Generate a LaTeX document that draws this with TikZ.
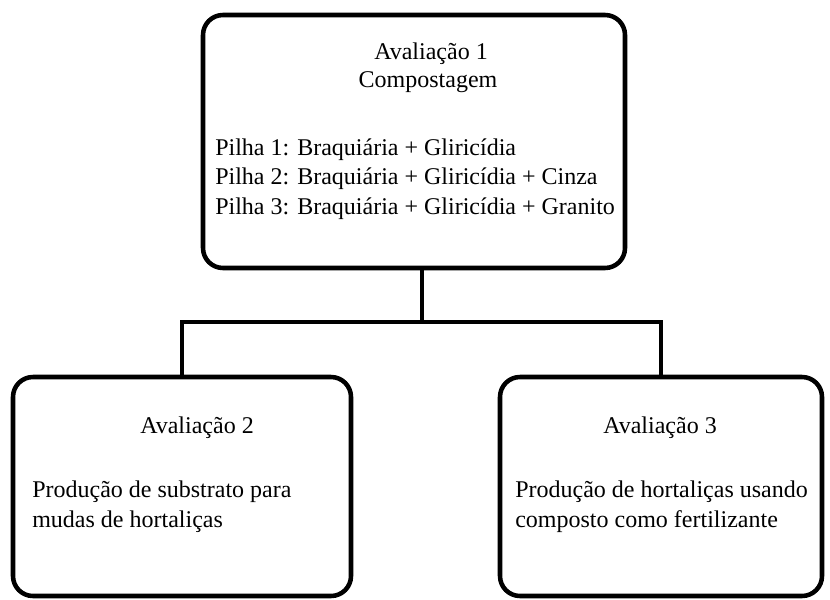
\documentclass[tikz,border=0pt]{standalone}
\usepackage{fontspec}
\setmainfont{Liberation Serif}
\begin{document}
\begin{tikzpicture}[x=0.75pt,y=-0.75pt,
  box/.style={draw,line width=3.4pt,rounded corners=15pt,inner sep=0pt},
  conn/.style={line width=3.2pt},
  txt/.style={inner sep=0pt,font=\fontsize{18}{22.1}\selectfont}]
  \useasboundingbox (0,0) rectangle (830,599);
  \node[box,minimum width=316.5pt,minimum height=189.75pt] (aval1) at (414,141.5) {};
  \node[box,minimum width=253.5pt,minimum height=164.25pt] (aval2) at (182,486.5) {};
  \node[box,minimum width=241.5pt,minimum height=164.25pt] (aval3) at (661,486.5) {};
  \node[txt,anchor=base] (tit1) at (431,60) {Avaliação 1};
  \node[txt,anchor=base] (comp) at (428,88) {Compostagem};
  \node[txt,anchor=base west,align=left] (pilhas) at (215,214)
    {Pilha 1: Braquiária + Gliricídia\\Pilha 2: Braquiária + Gliricídia + Cinza\\Pilha 3: Braquiária + Gliricídia + Granito};
  \node[txt,anchor=base] (tit2) at (197,433) {Avaliação 2};
  \node[txt,anchor=base west,align=left] (desc2) at (32,527)
    {Produção de substrato para\\mudas de hortaliças};
  \node[txt,anchor=base] (tit3) at (660,433) {Avaliação 3};
  \node[txt,anchor=base west,align=left] (desc3) at (515,527)
    {Produção de hortaliças usando\\composto como fertilizante};
  \coordinate (fork) at (422,322);
  \draw[conn] (aval1.south -| fork) -- (fork);
  \draw[conn] (aval2.north) |- (fork) -| (aval3.north);
\end{tikzpicture}
\end{document}
